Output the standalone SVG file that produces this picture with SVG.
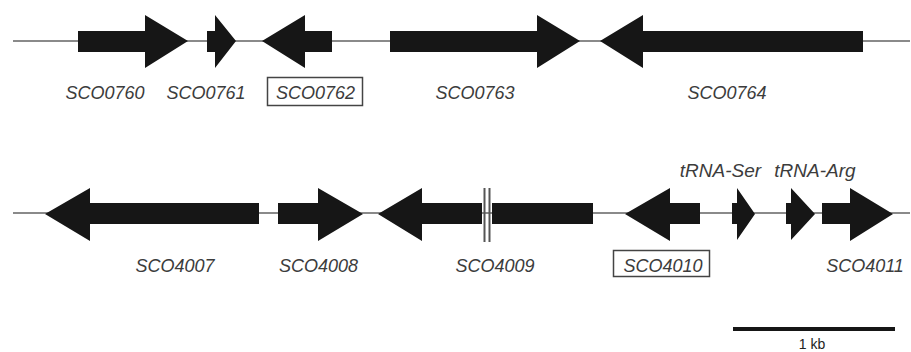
<svg xmlns="http://www.w3.org/2000/svg" width="911" height="352" viewBox="0 0 911 352">
<style>
.bg{fill:#ffffff}
.axis{stroke:#8a8a8a;stroke-width:2;fill:none}
.gene{fill:#161616}
.lbl{font-family:"Liberation Sans",Arial,sans-serif;font-style:italic;font-size:18px;fill:#3c3c3c;text-anchor:middle}
.trna{font-size:19px}
.scale{font-family:"Liberation Sans",Arial,sans-serif;font-size:14px;fill:#222;text-anchor:middle}
.box{fill:none;stroke:#444;stroke-width:1.5}
.brk{stroke:#555;stroke-width:2}
</style>
<rect class="bg" x="0" y="0" width="911" height="352"/>
<g id="backbones">
<line class="axis" x1="13" y1="41" x2="910" y2="41"/>
<line class="axis" x1="13" y1="213" x2="910" y2="213"/>
</g>
<g id="SCO0760"><polygon class="gene" points="78,31 145,31 145,15 188,41 145,68 145,52 78,52"/><text class="lbl" x="105" y="99">SCO0760</text></g>
<g id="SCO0761"><polygon class="gene" points="207,31 215,31 215,15 236,41 215,68 215,52 207,52"/><text class="lbl" x="206" y="99">SCO0761</text></g>
<g id="SCO0762"><polygon class="gene" points="332,31 305,31 305,15 262,41 305,68 305,52 332,52"/><rect class="box" x="267.5" y="77.5" width="95" height="28"/><text class="lbl" x="315.5" y="99">SCO0762</text></g>
<g id="SCO0763"><polygon class="gene" points="390,31 537,31 537,15 580,41 537,68 537,52 390,52"/><text class="lbl" x="475" y="99">SCO0763</text></g>
<g id="SCO0764"><polygon class="gene" points="863,31 643,31 643,15 600,41 643,68 643,52 863,52"/><text class="lbl" x="727" y="99">SCO0764</text></g>
<g id="SCO4007"><polygon class="gene" points="259,203 90,203 90,188 45,214 90,241 90,224 259,224"/><text class="lbl" x="175" y="272">SCO4007</text></g>
<g id="SCO4008"><polygon class="gene" points="278,203 318,203 318,188 363,214 318,241 318,224 278,224"/><text class="lbl" x="318.5" y="272">SCO4008</text></g>
<g id="SCO4009"><polygon class="gene" points="482,203 422,203 422,188 378,214 422,241 422,224 482,224"/><rect class="gene" x="492" y="203" width="101" height="21"/><line class="brk" x1="484.5" y1="188" x2="484.5" y2="242"/><line class="brk" x1="489.5" y1="188" x2="489.5" y2="242"/><text class="lbl" x="495" y="272">SCO4009</text></g>
<g id="SCO4010"><polygon class="gene" points="700,203 670,203 670,188 625,214 670,241 670,224 700,224"/><rect class="box" x="613.5" y="250.5" width="96" height="26"/><text class="lbl" x="663" y="272">SCO4010</text></g>
<g id="tRNA-Ser"><polygon class="gene" points="732,203 737,203 737,188 755,214 737,240 737,224 732,224"/><text class="lbl trna" x="720.5" y="177">tRNA-Ser</text></g>
<g id="tRNA-Arg"><polygon class="gene" points="786,203 791,203 791,188 815,214 791,240 791,224 786,224"/><text class="lbl trna" x="815" y="177">tRNA-Arg</text></g>
<g id="SCO4011"><polygon class="gene" points="822,203 850,203 850,188 893,214 850,241 850,224 822,224"/><text class="lbl" x="865" y="272">SCO4011</text></g>
<g id="scalebar"><line x1="733" y1="329" x2="895" y2="329" stroke="#161616" stroke-width="4"/><text class="scale" x="812" y="349">1 kb</text></g>
</svg>
